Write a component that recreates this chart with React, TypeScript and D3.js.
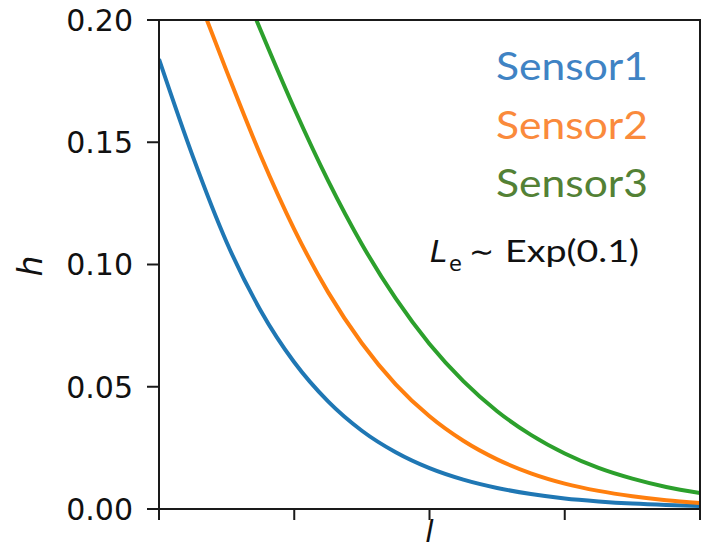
import * as d3 from "d3";

// values (l in tick units 0..4, h on the y axis)
const blueL = [0, 0.25, 0.5, 0.75, 1, 1.25, 1.5, 1.75, 2, 2.25, 2.5, 2.75, 3, 3.25, 3.5, 3.75, 4];
const blueH = [
  0.184, 0.1442, 0.1091, 0.0813, 0.06, 0.044, 0.032, 0.0232, 0.0167, 0.012, 0.0086, 0.0061,
  0.0043, 0.0031, 0.0022, 0.0016, 0.0012,
];

const orangeL = [0.25, 0.5, 0.75, 1, 1.25, 1.5, 1.75, 2, 2.25, 2.5, 2.75, 3, 3.25, 3.5, 3.75, 4];
const orangeH = [
  0.2149, 0.1791, 0.1448, 0.1144, 0.0887, 0.0678, 0.051, 0.0379, 0.0279, 0.0203, 0.0146,
  0.0104, 0.0074, 0.0052, 0.0036, 0.0025,
];

const greenL = [0.6, 0.75, 1, 1.25, 1.5, 1.75, 2, 2.25, 2.5, 2.75, 3, 3.25, 3.5, 3.75, 4];
const greenH = [
  0.216, 0.196, 0.1638, 0.1343, 0.1083, 0.0861, 0.0675, 0.0523, 0.04, 0.0303, 0.0227, 0.0168,
  0.0124, 0.009, 0.0065,
];

const xTicks = [0, 1, 2, 3, 4];
const yTicks = [0, 0.05, 0.1, 0.15, 0.2];

const seriesNames = ["Sensor1", "Sensor2", "Sensor3"];
const lineColors = ["#1f77b4", "#ff7f0e", "#2ca02c"];
const labelColors = ["#3f83c4", "#fa8a3c", "#538135"];

const width = 717;
const height = 548;
const margin = { top: 20, right: 17, bottom: 39, left: 159 };

export default function App() {
  const innerWidth = width - margin.left - margin.right;
  const innerHeight = height - margin.top - margin.bottom;

  const x = d3.scaleLinear().domain([0, 4]).range([0, innerWidth]);
  const y = d3.scaleLinear().domain([0, 0.2]).range([innerHeight, 0]);

  const lineGen = d3
    .line<[number, number]>()
    .x((d) => x(d[0]))
    .y((d) => y(d[1]))
    .curve(d3.curveMonotoneX);

  const series = [
    d3.zip(blueL, blueH) as [number, number][],
    d3.zip(orangeL, orangeH) as [number, number][],
    d3.zip(greenL, greenH) as [number, number][],
  ];

  const axisColor = "#1a1a1a";

  return (
    <svg
      width={width}
      height={height}
      style={{ position: "absolute", left: 0, top: 0, background: "#fff" }}
    >
      <defs>
        <clipPath id="plot-clip">
          <rect x={0} y={0} width={innerWidth} height={innerHeight} />
        </clipPath>
      </defs>
      <g transform={`translate(${margin.left},${margin.top})`}>
        <g clipPath="url(#plot-clip)">
          {series.map((s, i) => (
            <path
              key={i}
              d={lineGen(s) ?? ""}
              fill="none"
              stroke={lineColors[i]}
              strokeWidth={4}
            />
          ))}
        </g>

        {/* frame */}
        <rect
          x={0}
          y={0}
          width={innerWidth}
          height={innerHeight}
          fill="none"
          stroke={axisColor}
          strokeWidth={2}
        />

        {/* y axis */}
        {yTicks.map((t) => (
          <g key={t} transform={`translate(0,${y(t)})`}>
            <line x1={-12} x2={0} stroke={axisColor} strokeWidth={2} />
            <text
              x={-26}
              dy="0.36em"
              textAnchor="end"
              fontFamily="DejaVu Sans"
              fontSize={30}
              fill="#111"
            >
              {t.toFixed(2)}
            </text>
          </g>
        ))}

        {/* x axis, no labels */}
        {xTicks.map((t) => (
          <line
            key={t}
            x1={x(t)}
            x2={x(t)}
            y1={innerHeight}
            y2={innerHeight + 11}
            stroke={axisColor}
            strokeWidth={2}
          />
        ))}

        <text
          x={innerWidth / 2}
          y={innerHeight + 33}
          textAnchor="middle"
          fontFamily="DejaVu Sans"
          fontStyle="italic"
          fontSize={30}
          fill="#111"
        >
          l
        </text>
        <text
          transform={`translate(${42 - margin.left},${266 - margin.top}) rotate(-90)`}
          textAnchor="middle"
          fontFamily="DejaVu Sans"
          fontStyle="italic"
          fontSize={33}
          fill="#111"
        >
          h
        </text>
      </g>

      {/* legend as coloured labels */}
      {seriesNames.map((name, i) => (
        <text
          key={name}
          x={648}
          y={80 + i * 58.5}
          textAnchor="end"
          fontFamily="Lato"
          fontSize={39}
          fill={labelColors[i]}
          textLength={152}
          lengthAdjust="spacingAndGlyphs"
        >
          {name}
        </text>
      ))}

      <text
        x={430}
        y={262}
        fontFamily="DejaVu Sans"
        fontStyle="italic"
        fontSize={31}
        fill="#111"
      >
        L
      </text>
      <text x={449} y={271} fontFamily="DejaVu Sans" fontSize={21} fill="#111">
        e
      </text>
      <text x={469} y={262} fontFamily="DejaVu Sans" fontSize={30} fill="#111">
        ∼
      </text>
      <text
        x={505}
        y={262}
        fontFamily="Lato"
        fontSize={30}
        fill="#111"
        textLength={134}
        lengthAdjust="spacingAndGlyphs"
      >
        Exp(0.1)
      </text>
    </svg>
  );
}
